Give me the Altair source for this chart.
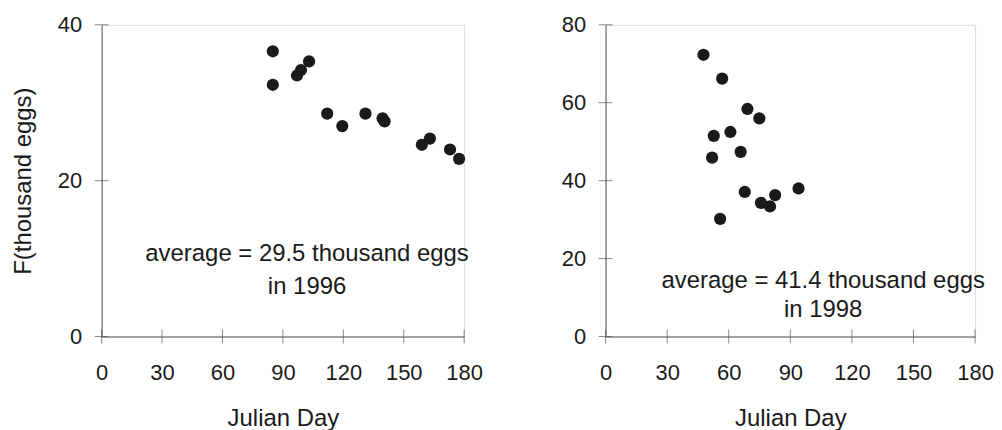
import altair as alt
import pandas as pd

# 1996 data
day_1996 = [85, 85, 97, 99, 103, 112, 119.5, 131, 139.5, 140.5, 159, 163, 173, 177.5]
f_1996 = [36.6, 32.3, 33.5, 34.2, 35.3, 28.6, 27.0, 28.6, 28.0, 27.6, 24.6, 25.4, 24.0, 22.8]

# 1998 data
day_1998 = [47.7, 56.8, 69.1, 74.9, 52.7, 60.8, 51.9, 65.8, 67.8, 75.7, 80.1, 82.6, 94.0, 55.8]
f_1998 = [72.3, 66.2, 58.4, 56.0, 51.5, 52.5, 45.9, 47.4, 37.1, 34.3, 33.4, 36.3, 38.0, 30.2]

x_ticks = [0, 30, 60, 90, 120, 150, 180]
y_ticks_1996 = [0, 20, 40]
y_ticks_1998 = [0, 20, 40, 60, 80]

note_1996 = ["average = 29.5 thousand eggs", "in 1996"]
note_1996_x = [102, 102]
note_1996_y = [10.6, 6.4]

note_1998 = ["average = 41.4 thousand eggs", "in 1998"]
note_1998_x = [106, 106]
note_1998_y = [14.3, 6.7]

FONT = "Liberation Sans"
INK = "#1a1a1a"


def panel(days, vals, ymax, yticks, notes, nx, ny, ytitle, width, height):
    df = pd.DataFrame({"day": days, "f": vals})
    xs = alt.Scale(domain=[0, 180], nice=False)
    ys = alt.Scale(domain=[0, ymax], nice=False)
    common = dict(ticks=False, tickSize=0, grid=False, domainColor="#555",
                  labelFontSize=22, titleFontSize=24, labelFont=FONT,
                  titleFont=FONT, titleFontWeight="normal",
                  labelColor=INK, titleColor=INK, labelFlush=False,
                  labelOverlap=False)
    xaxis = alt.Axis(values=x_ticks, labelPadding=26, titlePadding=23, **common)
    yaxis = alt.Axis(values=yticks, labelPadding=20, titlePadding=22, **common)
    pts = alt.Chart(df).mark_circle(size=150, opacity=1, color=INK).encode(
        x=alt.X("day:Q", scale=xs, axis=xaxis, title="Julian Day"),
        y=alt.Y("f:Q", scale=ys, axis=yaxis, title=ytitle),
    )
    xt = alt.Chart(pd.DataFrame({"t": x_ticks, "z": [0] * len(x_ticks)})).mark_tick(
        orient="vertical", size=14, thickness=1, color="#555").encode(
        x=alt.X("t:Q", scale=xs), y=alt.Y("z:Q", scale=ys))
    yt = alt.Chart(pd.DataFrame({"t": yticks, "z": [0] * len(yticks)})).mark_tick(
        orient="horizontal", size=14, thickness=1, color="#555").encode(
        y=alt.Y("t:Q", scale=ys), x=alt.X("z:Q", scale=xs))
    txt = alt.Chart(pd.DataFrame({"x": nx, "y": ny, "s": notes})).mark_text(
        fontSize=24, font=FONT, color=INK, align="center", baseline="middle").encode(
        x=alt.X("x:Q", scale=xs), y=alt.Y("y:Q", scale=ys), text="s:N")
    return alt.layer(pts, xt, yt, txt).properties(width=width, height=height)


left = panel(day_1996, f_1996, 40, y_ticks_1996, note_1996, note_1996_x, note_1996_y,
             "F(thousand eggs)", 364, 313)
right = panel(day_1998, f_1998, 80, y_ticks_1998, note_1998, note_1998_x, note_1998_y,
              "", 371, 313)

chart = alt.hconcat(left, right, spacing=142, bounds="flush").properties(
    padding={"left": 3, "top": 4, "right": 0, "bottom": 0}
).configure_view(stroke=None).configure(background="white")

chart.save("out.html", embed_options={"renderer": "svg", "actions": False})
